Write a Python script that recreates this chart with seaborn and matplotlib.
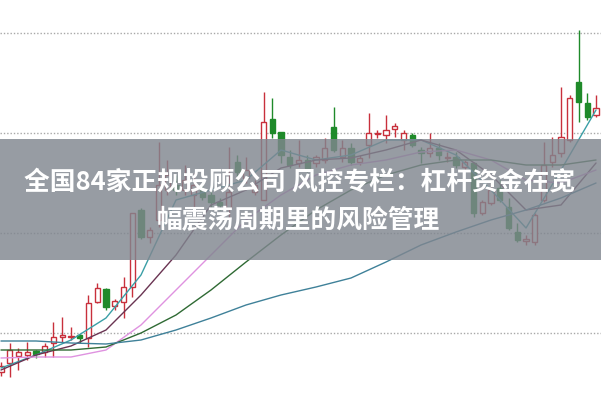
import matplotlib
matplotlib.use("Agg")
import matplotlib.pyplot as plt
import numpy as np
import pandas as pd
import seaborn as sns

# daily candles (price units)
opens = [3.22, 3.40, 3.54, 3.56, 3.64, 3.62, 3.80, 3.92, 3.92, 3.96,
         3.90, 4.62, 4.88, 4.54, 4.62, 4.92, 6.46, 5.92, 6.26, 6.86,
         6.96, 6.86, 6.76, 6.86, 6.76, 6.62, 6.50, 7.42, 7.10, 6.82,
         6.66, 8.28, 8.02, 7.52, 7.40, 7.46, 7.40, 7.46, 8.12, 7.52,
         7.70, 7.42, 7.76, 7.98, 7.96, 8.08, 7.86, 7.96, 7.66, 7.60,
         7.70, 7.50, 7.52, 7.32, 7.40, 6.40, 6.60, 6.90, 6.52, 6.02,
         5.85, 5.82, 6.66, 7.42, 7.60, 7.86, 9.02, 8.60, 8.36]
highs = [3.42, 3.80, 3.70, 3.82, 3.66, 3.80, 4.22, 4.32, 4.12, 3.98,
         4.76, 5.00, 4.90, 4.68, 5.12, 6.40, 6.50, 6.12, 7.82, 7.46,
         7.16, 7.36, 7.20, 6.96, 6.86, 6.70, 7.72, 7.56, 7.52, 7.06,
         8.82, 8.70, 8.02, 7.66, 7.86, 7.56, 7.56, 7.90, 8.52, 7.86,
         7.80, 7.56, 8.40, 8.06, 8.36, 8.20, 8.06, 8.00, 7.72, 8.00,
         7.80, 7.62, 7.62, 7.46, 7.42, 6.66, 7.06, 7.06, 6.70, 6.20,
         5.96, 6.40, 7.82, 7.92, 8.92, 8.76, 10.06, 8.80, 8.76]
lows = [3.14, 3.12, 3.26, 3.46, 3.50, 3.52, 3.52, 3.82, 3.86, 3.80,
        3.72, 4.60, 4.46, 4.46, 4.30, 4.72, 5.88, 5.80, 6.12, 6.76,
        6.76, 6.76, 6.52, 6.66, 6.52, 6.46, 6.26, 7.06, 7.00, 6.76,
        6.66, 7.90, 7.40, 7.30, 7.32, 7.22, 7.32, 7.40, 7.62, 7.42,
        7.36, 7.36, 7.50, 7.90, 7.80, 7.92, 7.66, 7.72, 7.40, 7.52,
        7.46, 7.42, 7.30, 7.26, 6.32, 6.36, 6.56, 6.62, 6.06, 5.82,
        5.76, 5.76, 6.62, 7.32, 7.52, 7.82, 8.22, 8.26, 8.32]
closes = [3.34, 3.66, 3.62, 3.62, 3.58, 3.74, 3.92, 3.96, 3.95, 3.90,
          4.60, 4.90, 4.52, 4.64, 4.92, 6.40, 5.92, 6.06, 6.96, 7.16,
          6.86, 7.06, 6.96, 6.72, 6.62, 6.56, 6.82, 7.22, 7.26, 6.96,
          8.22, 8.00, 7.56, 7.36, 7.46, 7.30, 7.52, 7.70, 7.66, 7.70,
          7.42, 7.50, 8.00, 8.00, 8.06, 8.14, 8.00, 7.76, 7.60, 7.70,
          7.56, 7.52, 7.36, 7.42, 6.40, 6.62, 6.86, 6.66, 6.10, 5.86,
          5.86, 6.36, 7.36, 7.56, 7.92, 8.70, 8.62, 8.32, 8.50]

# moving averages read every 4th day
ma_days = list(range(0, 69, 4))
ma5 = [3.30, 3.56, 3.86, 4.30, 5.16, 6.66, 6.86, 7.06, 7.66, 7.46, 7.56, 7.86, 7.86, 7.56, 6.86, 6.10, 7.26, 8.46]
ma10 = [3.26, 3.56, 3.74, 4.06, 4.76, 5.56, 6.56, 6.86, 7.30, 7.46, 7.50, 7.66, 7.86, 7.66, 7.16, 6.46, 6.56, 7.40]
ma20 = [3.50, 3.52, 3.52, 3.66, 4.16, 4.86, 5.56, 6.26, 6.76, 7.16, 7.36, 7.46, 7.62, 7.66, 7.46, 7.06, 7.00, 7.26]
ma30 = [3.66, 3.66, 3.66, 3.72, 4.00, 4.36, 4.86, 5.42, 5.96, 6.46, 6.86, 7.16, 7.36, 7.46, 7.46, 7.36, 7.36, 7.46]
ma60 = [3.84, 3.84, 3.80, 3.78, 3.86, 4.06, 4.30, 4.56, 4.76, 4.92, 5.10, 5.42, 5.76, 6.02, 6.26, 6.46, 6.70, 7.00]

grid_levels = [4, 6, 8, 10]
title_lines = ["全国84家正规投顾公司 风控专栏：杠杆资金在宽", "幅震荡周期里的风险管理"]

sns.set_theme(style="white")
plt.rcParams['font.family'] = ['Noto Sans CJK SC', 'DejaVu Sans']

red = "#c8303c"
green = "#1f8a2a"
ma_colors = {"MA5": "#3a9fa6", "MA10": "#6a3452", "MA20": "#df92e0",
             "MA30": "#2f6a34", "MA60": "#3f8199"}

fig = plt.figure(figsize=(6.01, 4.01), dpi=100)
ax = fig.add_axes([0, 0, 1, 1])

# dotted price grid
for lvl in grid_levels:
    ax.axhline(lvl, color="#a8a8a8", lw=1, ls=(0, (1, 1.4)), zorder=1)

days = np.arange(len(opens))
o = np.array(opens)
c = np.array(closes)
h = np.array(highs)
l = np.array(lows)
up = c >= o
body = np.maximum(np.abs(c - o), 0.03)
bottom = np.minimum(o, c)

# up days hollow red, down days filled green
ax.vlines(days[up], l[up], h[up], color=red, lw=1, zorder=3)
ax.bar(days[up], body[up], bottom=bottom[up], width=0.6, facecolor="white",
       edgecolor=red, lw=1, zorder=4)
ax.vlines(days[~up], l[~up], h[~up], color=green, lw=1, zorder=3)
ax.bar(days[~up], body[~up], bottom=bottom[~up], width=0.6, facecolor=green,
       edgecolor=green, lw=1, zorder=4)

n = len(ma_days)
ma_df = pd.DataFrame({"day": ma_days * 5,
                      "value": ma5 + ma10 + ma20 + ma30 + ma60,
                      "ma": ["MA5"] * n + ["MA10"] * n + ["MA20"] * n + ["MA30"] * n + ["MA60"] * n})
sns.lineplot(data=ma_df, x="day", y="value", hue="ma", palette=ma_colors,
             legend=False, lw=1, ax=ax, zorder=5)

# title banner
ax.axhspan(5.46, 7.88, color="#80868f", alpha=0.82, lw=0, zorder=10)
ax.text(0.499, 0.544, title_lines[0], transform=ax.transAxes, ha="center", va="center",
        color="white", fontsize=18.5, fontweight="bold", zorder=11)
ax.text(0.496, 0.451, title_lines[1], transform=ax.transAxes, ha="center", va="center",
        color="white", fontsize=18.5, fontweight="bold", zorder=11)

ax.set_xlim(-0.114, 68.57)
ax.set_ylim(2.64, 10.66)
ax.set_xlabel("")
ax.set_ylabel("")
ax.set_xticks([])
ax.set_yticks([])
for s in ax.spines.values():
    s.set_visible(False)

fig.savefig("out.png", dpi=100)
